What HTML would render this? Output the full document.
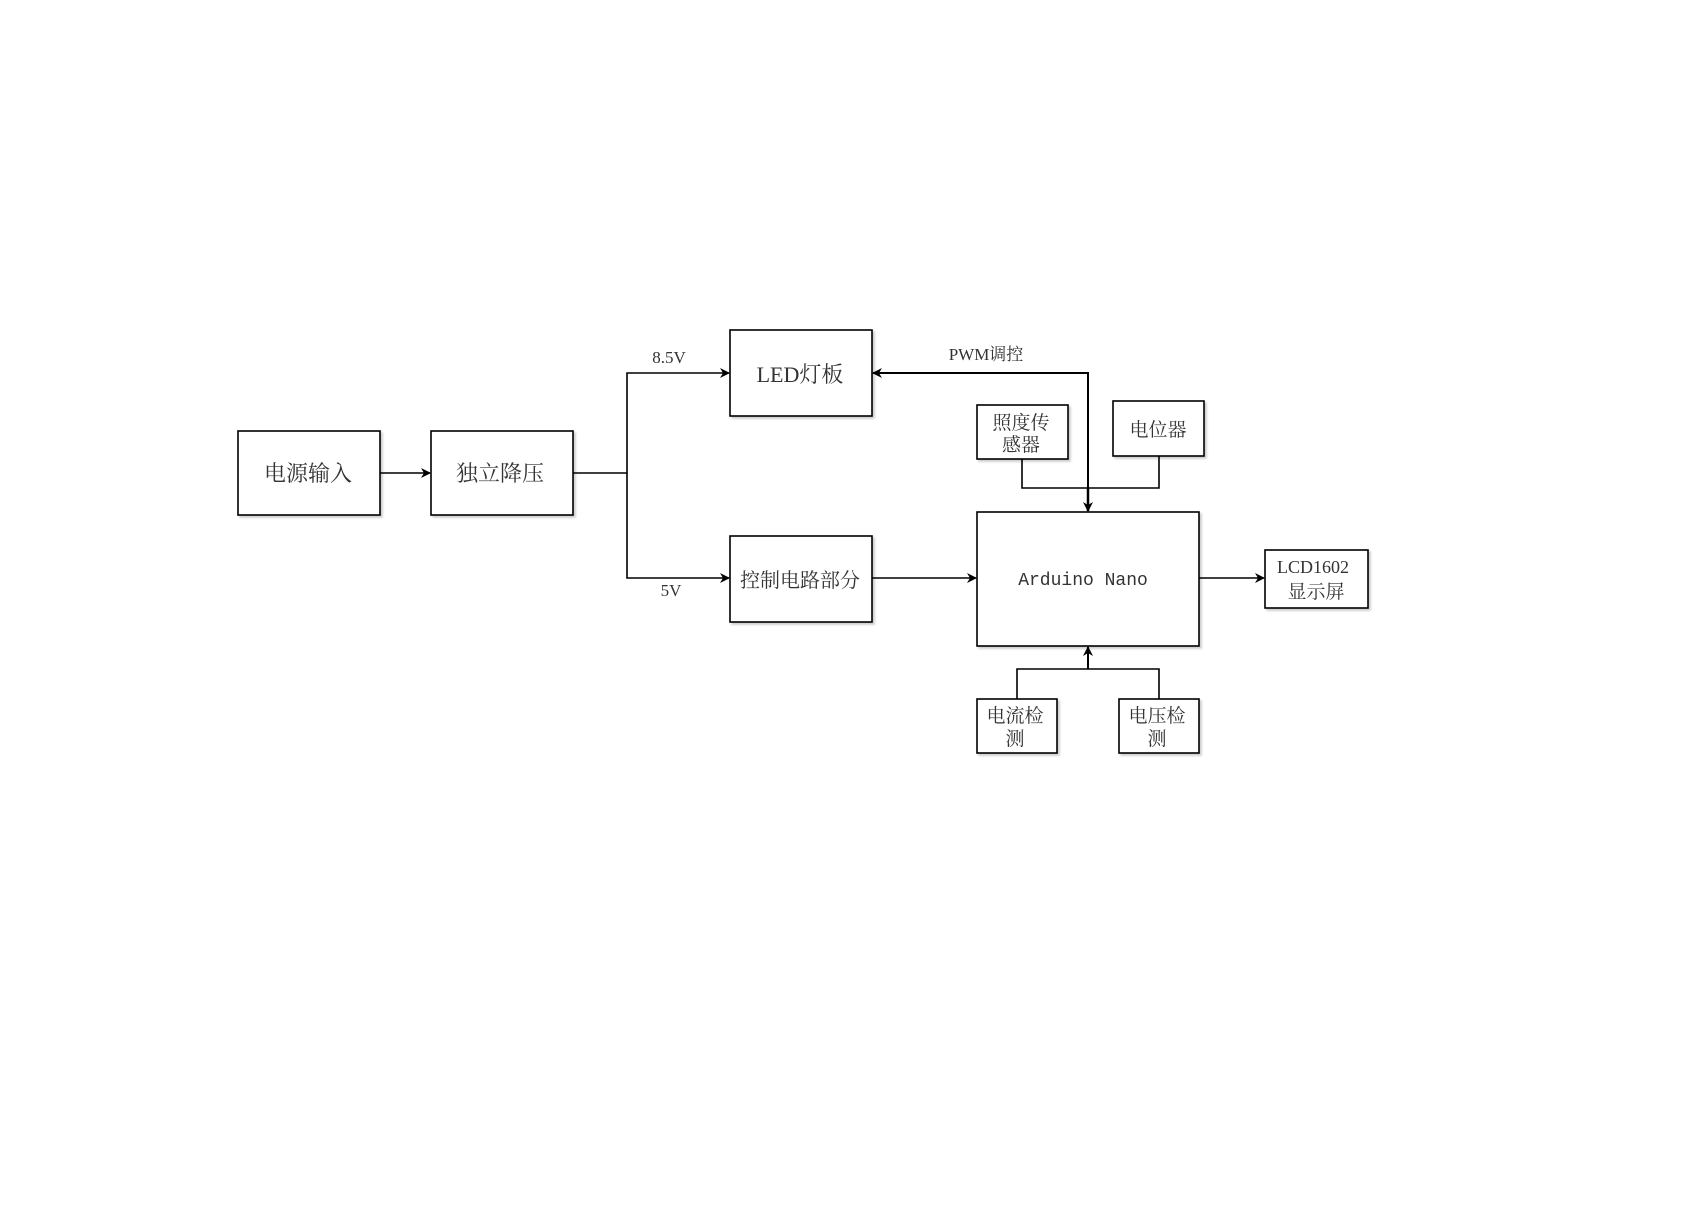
<!DOCTYPE html>
<html><head><meta charset="utf-8"><style>
body{margin:0;background:#fff;}
svg text{font-family:"Liberation Serif","Noto Serif CJK SC",serif;fill:#333;}
</style></head><body>
<svg width="1700" height="1202" viewBox="0 0 1700 1202" xmlns="http://www.w3.org/2000/svg">
<defs>
<marker id="a" markerWidth="10" markerHeight="10" refX="9" refY="5" orient="auto" markerUnits="userSpaceOnUse">
<path d="M0,0 L10,5 L0,10 L3,5 z" fill="#000"/></marker>
<filter id="s"><feDropShadow dx="2" dy="2" stdDeviation="1" flood-color="#000" flood-opacity="0.2"/></filter>
</defs>
<g fill="#fff" stroke="#000" stroke-width="1.6" filter="url(#s)">
<rect x="238" y="431" width="142" height="84"/>
<rect x="431" y="431" width="142" height="84"/>
<rect x="730" y="330" width="142" height="86"/>
<rect x="730" y="536" width="142" height="86"/>
<rect x="977" y="405" width="91" height="54"/>
<rect x="1113" y="401" width="91" height="55"/>
<rect x="977" y="512" width="222" height="134"/>
<rect x="1265" y="550" width="103" height="58"/>
<rect x="977" y="699" width="80" height="54"/>
<rect x="1119" y="699" width="80" height="54"/>
</g>
<g fill="none" stroke="#000" stroke-width="1.6">
<path d="M380,473 H430" marker-end="url(#a)"/>
<path d="M573,473 H627 V373 H729" marker-end="url(#a)"/>
<path d="M627,473 V578 H729" marker-end="url(#a)"/>
<path d="M872,578 H976" marker-end="url(#a)"/>
<path d="M1199,578 H1264" marker-end="url(#a)"/>
<path d="M1088,488 V373 H873" stroke-width="2" marker-end="url(#a)"/>
<path d="M1022,459 V488 H1159 V456"/>
<path d="M1088,488 V511" stroke-width="2.5" marker-end="url(#a)"/>
<path d="M1017,699 V669 H1159 V699"/>
<path d="M1088,669 V647" stroke-width="2" marker-end="url(#a)"/>
</g>
<g font-size="22" text-anchor="middle">
<text x="308" y="481">电源输入</text>
<text x="500" y="481">独立降压</text>
<text x="800" y="382">LED灯板</text>
<text x="800" y="587" font-size="20">控制电路部分</text>
</g>
<g font-size="17" text-anchor="middle">
<text x="669" y="363">8.5V</text>
<text x="671" y="596">5V</text>
<text x="986" y="360">PWM调控</text>
<text x="1021" y="429" font-size="19">照度传</text>
<text x="1021" y="451" font-size="19">感器</text>
<text x="1158" y="436" font-size="19">电位器</text>
<text x="1083" y="585" style="font-family:'Liberation Mono',monospace;font-size:18px">Arduino Nano</text>
<text x="1313" y="573" font-size="18">LCD1602</text>
<text x="1316" y="598" font-size="19">显示屏</text>
<text x="1015" y="722" font-size="19">电流检</text>
<text x="1015" y="745" font-size="19">测</text>
<text x="1157" y="722" font-size="19">电压检</text>
<text x="1157" y="745" font-size="19">测</text>
</g>
</svg>
</body></html>
